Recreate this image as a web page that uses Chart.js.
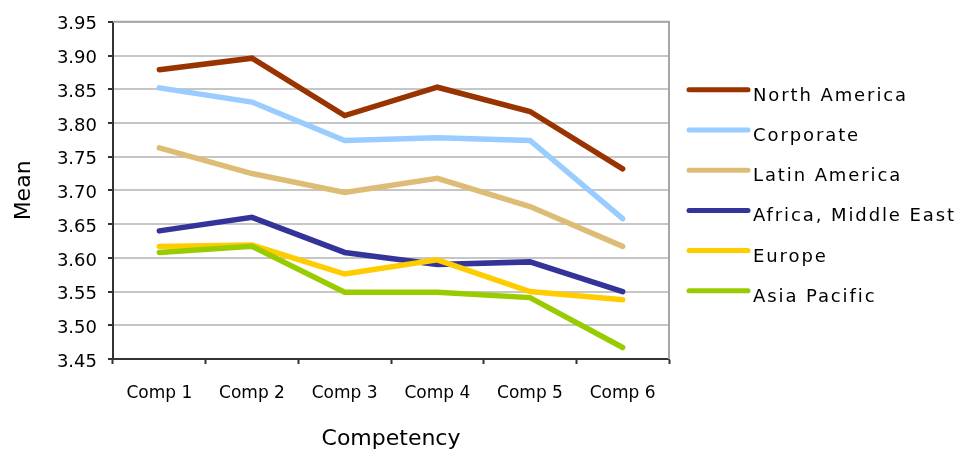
<!DOCTYPE html>
<html>
<head>
<meta charset="utf-8">
<title>Mean by Competency and Region</title>
<script src="https://cdn.jsdelivr.net/npm/chart.js@4/dist/chart.umd.min.js"></script>
<style>
  html, body { margin: 0; padding: 0; background: #ffffff; }
  #wrap { width: 975px; height: 452px; }
</style>
</head>
<body>
<div id="wrap"><canvas id="chart" width="975" height="452"></canvas></div>
<script>
// Competency categories along the x axis
const categories = ['Comp 1', 'Comp 2', 'Comp 3', 'Comp 4', 'Comp 5', 'Comp 6'];

// Mean score per region
const northAmerica     = [3.879, 3.896, 3.811, 3.853, 3.817, 3.732];
const corporate        = [3.852, 3.831, 3.774, 3.778, 3.774, 3.658];
const latinAmerica     = [3.763, 3.725, 3.697, 3.718, 3.676, 3.617];
const africaMiddleEast = [3.640, 3.660, 3.608, 3.590, 3.594, 3.550];
const europe           = [3.617, 3.619, 3.576, 3.597, 3.550, 3.538];
const asiaPacific      = [3.608, 3.617, 3.549, 3.549, 3.541, 3.467];

// Value-axis ticks
const yTicks = [3.45, 3.50, 3.55, 3.60, 3.65, 3.70, 3.75, 3.80, 3.85, 3.90, 3.95];

const regionNames = ['North America', 'Corporate', 'Latin America', 'Africa, Middle East', 'Europe', 'Asia Pacific'];
const regionValues = [northAmerica, corporate, latinAmerica, africaMiddleEast, europe, asiaPacific];
const regionColors = ['#993300', '#99CCFF', '#DDBD75', '#333399', '#FFCC00', '#99CC00'];

const FONT = "'DejaVu Sans', sans-serif";

// Later series are painted over earlier ones
const datasets = regionNames.map((name, i) => ({
  label: name,
  data: regionValues[i],
  borderColor: regionColors[i],
  backgroundColor: regionColors[i],
  borderWidth: 5.5,
  borderCapStyle: 'round',
  borderJoinStyle: 'miter',
  pointRadius: 0,
  pointHoverRadius: 0,
  tension: 0,
  fill: false,
  order: regionNames.length - i
}));

// Gray frame on the top/right of the plot and a line-sample legend on the right
const frameAndLegend = {
  id: 'frameAndLegend',
  afterDraw(chart) {
    const { ctx, chartArea: a } = chart;
    ctx.save();
    ctx.strokeStyle = '#a6a6a6';
    ctx.lineWidth = 2;
    ctx.beginPath();
    ctx.moveTo(a.left, a.top);
    ctx.lineTo(a.right, a.top);
    ctx.lineTo(a.right, a.bottom);
    ctx.stroke();

    const x0 = a.right + 20, x1 = a.right + 79, tx = a.right + 84;
    const step = 40.2;
    ctx.font = '18px ' + FONT;
    ctx.textBaseline = 'alphabetic';
    ctx.textAlign = 'left';
    if ('letterSpacing' in ctx) ctx.letterSpacing = '1.9px';
    chart.data.datasets.forEach((ds, i) => {
      const ly = a.top + 68 + i * step;
      ctx.strokeStyle = ds.borderColor;
      ctx.lineWidth = 5;
      ctx.lineCap = 'round';
      ctx.beginPath();
      ctx.moveTo(x0, ly);
      ctx.lineTo(x1, ly);
      ctx.stroke();
      ctx.fillStyle = '#000000';
      ctx.fillText(ds.label, tx, ly + 11);
    });
    ctx.restore();
  }
};

new Chart(document.getElementById('chart'), {
  type: 'line',
  data: { labels: categories, datasets },
  plugins: [frameAndLegend],
  options: {
    responsive: false,
    animation: false,
    devicePixelRatio: 1,
    layout: { padding: { left: 0, top: 19, right: 306, bottom: 0 } },
    plugins: {
      legend: { display: false },
      tooltip: { enabled: false }
    },
    scales: {
      x: {
        type: 'category',
        offset: true,
        afterFit(scale) { scale.height = 93; },
        grid: {
          offset: true,
          drawOnChartArea: false,
          drawTicks: true,
          tickLength: 5,
          tickColor: '#333333',
          tickWidth: 2
        },
        border: { display: true, color: '#333333', width: 2 },
        ticks: {
          color: '#000000',
          font: { family: FONT, size: 17 },
          padding: 19,
          maxRotation: 0,
          autoSkip: false
        },
        title: {
          display: true,
          text: 'Competency',
          color: '#000000',
          font: { family: FONT, size: 22 },
          padding: { top: 0, bottom: 0 }
        }
      },
      y: {
        min: 3.45,
        max: 3.95,
        afterFit(scale) { scale.width = 113; },
        afterBuildTicks(scale) { scale.ticks = yTicks.map(v => ({ value: v })); },
        grid: {
          color: '#c6c6c6',
          lineWidth: 2,
          drawTicks: true,
          tickLength: 5,
          tickColor: '#333333',
          tickWidth: 2
        },
        border: { display: true, color: '#333333', width: 2 },
        ticks: {
          color: '#000000',
          font: { family: FONT, size: 18 },
          padding: 11,
          labelOffset: 3,
          callback: v => Number(v).toFixed(2)
        },
        title: {
          display: true,
          text: 'Mean',
          color: '#000000',
          font: { family: FONT, size: 22 },
          padding: { top: 11, bottom: 0 }
        }
      }
    }
  }
});
</script>
</body>
</html>
